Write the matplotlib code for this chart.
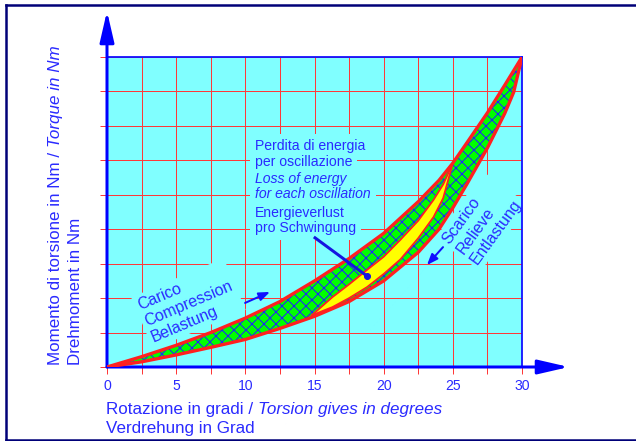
import numpy as np
import matplotlib.pyplot as plt

plt.rcParams['font.family'] = ['Liberation Sans', 'DejaVu Sans']
plt.rcParams['hatch.linewidth'] = 1.0
plt.rcParams['hatch.color'] = '#2020ff'

# hysteresis loop (x in degrees, y in grid units 0..9)
x_up = [0, 2.5, 5, 7.5, 10, 12.5, 15, 17.5, 20, 22.5, 24, 25, 26, 27.5, 28.75, 30]
upper = [0, 0.3, 0.63, 1.0, 1.42, 1.9, 2.5, 3.15, 3.88, 4.8, 5.42, 5.92, 6.5, 7.38, 8.18, 9.0]
x_lo = [0, 2.5, 5, 7.5, 10, 12.5, 15, 17.5, 20, 22.5, 24, 25, 26, 27.5, 28.75, 29.4, 30]
lower = [0, 0.15, 0.35, 0.57, 0.8, 1.12, 1.47, 1.9, 2.5, 3.33, 4.0, 4.62, 5.3, 6.36, 7.36, 7.98, 9.0]

# inner (yellow) loop
x_inner = [14.8, 16.3, 17.5, 18.8, 20, 21.2, 22.5, 23.6, 24.3, 25.0]
inner_up = [1.5, 2.03, 2.4, 2.82, 3.2, 3.69, 4.25, 4.85, 5.3, 5.92]
inner_lo = [1.5, 1.74, 2.0, 2.32, 2.7, 3.12, 3.74, 4.35, 4.9, 5.92]

xticks = np.arange(0, 30.1, 2.5)
xlabels = [str(int(v)) if v % 5 == 0 else '' for v in xticks]
yticks = np.arange(0, 10)

loss_lines = ['Perdita di energia', 'per oscillazione', 'Loss of energy',
              'for each oscillation', 'Energieverlust', 'pro Schwingung']
loss_italic = [False, False, True, True, False, False]
loss_y = [6.30, 5.835, 5.34, 4.906, 4.355, 3.919]

TXT = '#2a2aff'
CYAN = '#80ffff'
RED = '#ff2020'
GRIDRED = '#ff3838'

W, H = 636, 441
fig = plt.figure(figsize=(W / 72, H / 72), dpi=72)
ax = fig.add_axes([107 / W, 74 / H, 415 / W, 310 / H])
ax.set_facecolor(CYAN)
ax.set_xlim(0, 30)
ax.set_ylim(0, 9)

ax.set_xticks(xticks)
ax.set_xticklabels(xlabels)
ax.set_yticks(yticks)
ax.set_yticklabels([])
ax.tick_params(axis='both', color=GRIDRED, length=7, width=1,
               labelcolor=TXT, labelsize=14, pad=5)
ax.grid(True, color=GRIDRED, lw=1)
ax.set_axisbelow(True)

for s in ['top', 'right']:
    ax.spines[s].set_color('#1010ff')
    ax.spines[s].set_linewidth(1.8)
for s in ['left', 'bottom']:
    ax.spines[s].set_visible(False)

# outer band: green with blue cross hatch
xs = np.array(x_up + x_lo[::-1])
ys = np.array(upper + lower[::-1])
ax.fill(xs, ys, facecolor='#00ff00', edgecolor='#2020ff', hatch='xx',
        linewidth=0, zorder=3)
ax.fill_between(x_inner, inner_lo, inner_up, facecolor='#ffff00', linewidth=0, zorder=3.2)
ax.plot(x_inner, inner_up, color=RED, lw=1.8, zorder=3.4)
ax.plot(x_inner, inner_lo, color=RED, lw=1.8, zorder=3.4)
ax.plot(x_up, upper, color=RED, lw=3.3, zorder=4, solid_capstyle='round')
ax.plot(x_lo, lower, color=RED, lw=3.3, zorder=4, solid_capstyle='round')

# axis arrows
arrow = dict(arrowstyle='-|>,head_length=2.6,head_width=0.6', color='#0000ff',
             lw=3, shrinkA=0, shrinkB=0, mutation_scale=10, clip_on=False)
ax.annotate('', xy=(0, 1.148), xytext=(0, 0), xycoords='axes fraction',
            arrowprops=arrow, annotation_clip=False, zorder=3.6)
ax.annotate('', xy=(1.113, 0), xytext=(0, 0), xycoords='axes fraction',
            arrowprops=arrow, annotation_clip=False, zorder=3.6)

box = dict(boxstyle='square,pad=0.35', fc=CYAN, ec='none')
clear = (0, 0, 0, 0)

# energy loss note: backgrounds first, then the words on top
for txt, it, y in zip(loss_lines, loss_italic, loss_y):
    st = 'italic' if it else 'normal'
    ax.text(10.7, y, txt, fontsize=14, color=clear, ha='left', va='baseline',
            style=st, bbox=box, zorder=2.4)
    ax.text(10.7, y, txt, fontsize=14, color=TXT, ha='left', va='baseline',
            style=st, zorder=2.6)

ax.plot([15.04, 18.8], [3.75, 2.64], color='#1515e0', lw=3, zorder=5)
ax.plot([18.8], [2.64], 'o', color='#1515e0', ms=6, zorder=5)

ax.text(2.05, 1.97, 'Carico\nCompression\nBelastung', fontsize=16, color=TXT,
        rotation=23, rotation_mode='anchor', ha='left', va='top',
        bbox=dict(boxstyle='square,pad=0.2', fc=CYAN, ec='none'),
        zorder=2.5, clip_on=True)
ax.text(24.05, 3.76, 'Scarico\nRelieve\nEntlastung', fontsize=16, color=TXT,
        rotation=54, rotation_mode='anchor', ha='left', va='top',
        bbox=dict(boxstyle='square,pad=0.2', fc=CYAN, ec='none'),
        zorder=2.5, clip_on=True)

small = dict(arrowstyle='-|>,head_length=0.9,head_width=0.35', color='#1010ff',
             lw=2, shrinkA=0, shrinkB=0)
ax.annotate('', xy=(11.78, 2.18), xytext=(9.98, 1.86), arrowprops=small, zorder=5)
ax.annotate('', xy=(23.13, 2.96), xytext=(24.29, 3.48), arrowprops=small, zorder=5)


def fx(px):
    return px / W


def fy(py):
    return 1 - py / H


# y label
t1 = fig.text(fx(63.5), fy(365), 'Momento di torsione in Nm /', rotation=90,
              ha='right', va='bottom', fontsize=17, color=TXT)
ax.annotate('Torque in Nm', xy=(0, 1), xycoords=t1, xytext=(0, 4.7),
            textcoords='offset points', rotation=90, ha='left', va='bottom',
            fontsize=17, color=TXT, style='italic', annotation_clip=False)
fig.text(fx(83.5), fy(365), 'Drehmoment in Nm', rotation=90,
         ha='right', va='bottom', fontsize=17, color=TXT)

# x label
t2 = fig.text(fx(106), fy(414), 'Rotazione in gradi /', ha='left', va='baseline',
              fontsize=17, color=TXT)
ax.annotate('Torsion gives in degrees', xy=(1, 0), xycoords=t2, xytext=(4.7, 0),
            textcoords='offset points', ha='left', va='bottom',
            fontsize=17, color=TXT, style='italic', annotation_clip=False)
fig.text(fx(106), fy(433), 'Verdrehung in Grad', ha='left', va='baseline',
         fontsize=17, color=TXT)

# navy frame
NAVY = '#000078'
for fxs, fys in [([6, 6], [5, 439.5]), ([6, 640], [5, 5]), ([6, 640], [439.5, 439.5])]:
    fig.add_artist(plt.Line2D([fx(v) for v in fxs], [fy(v) for v in fys],
                              color=NAVY, lw=2.5, solid_capstyle='projecting'))

fig.savefig('out.png', dpi=72)
